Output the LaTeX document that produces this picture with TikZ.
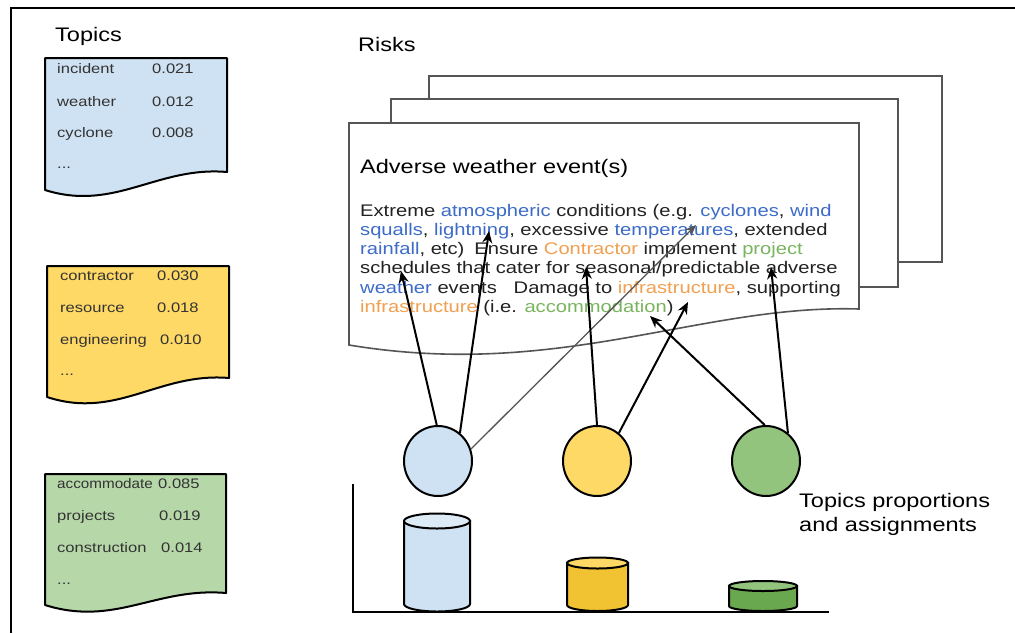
\documentclass[tikz,border=0pt]{standalone}
\usepackage{fontspec}
\setmainfont[FakeStretch=1.2]{Liberation Sans}
\usetikzlibrary{shapes.geometric,arrows.meta}
\definecolor{lblue}{HTML}{CFE2F3}
\definecolor{lyellow}{HTML}{FFD966}
\definecolor{lgreen}{HTML}{B6D7A8}
\definecolor{cgreen}{HTML}{93C47D}
\definecolor{dyellow}{HTML}{F1C232}
\definecolor{dgreen}{HTML}{6AA84F}
\definecolor{pagegray}{HTML}{555555}
\definecolor{txtgray}{HTML}{333333}
\definecolor{ptext}{HTML}{222222}
\definecolor{tb}{HTML}{3C6CC8}
\definecolor{to}{HTML}{F0A050}
\definecolor{tg}{HTML}{79B45E}
\definecolor{gline}{HTML}{555555}
\begin{document}
\begin{tikzpicture}[x=1pt,y=-1pt,
  doc/.style={draw=black,line width=2pt,line join=round},
  page/.style={draw=pagegray,line width=1.6pt,fill=white},
  dtxt/.style={anchor=base west,inner sep=0pt,font=\fontsize{13.8}{16}\selectfont,text=txtgray},
  ptxt/.style={anchor=base west,inner sep=0pt,font=\fontsize{16.8}{20}\selectfont,text=ptext},
  big/.style={anchor=base west,inner sep=0pt,font=\fontsize{19.6}{24}\selectfont,text=black},
  topic/.style={ellipse,draw=black,line width=2pt,minimum width=68pt,minimum height=70pt,inner sep=0pt},
  arr/.style={line width=2pt,-{Stealth[length=12pt,width=10pt]}},
  garr/.style={line width=1.3pt,draw=gline,-{Stealth[length=11pt,width=9pt]}},
  cyl/.style={draw=black,line width=2pt},
  axis/.style={draw=black,line width=2pt}
]
\useasboundingbox (0,0) rectangle (1015,633);
\fill[white] (0,0) rectangle (1015,633);
\draw[line width=2.5pt] (11,633) -- (11,8) -- (1015,8);

% topic documents
\node[big] (topics) at (55,41) {Topics};
\filldraw[doc,fill=lblue] (45,58) -- (227,58) -- (227,172) .. controls (157,166) and (115,212) .. (45,190) -- cycle;
\filldraw[doc,fill=lyellow] (47,266) -- (229,266) -- (229,378) .. controls (159,372) and (117,420) .. (47,397) -- cycle;
\filldraw[doc,fill=lgreen] (45,474) -- (226,474) -- (226,593) .. controls (156,587) and (115,627) .. (45,605) -- cycle;

\node[dtxt] (w11) at (57,73) {incident};
\node[dtxt] (n11) at (152,73) {0.021};
\node[dtxt] (w12) at (57,106) {weather};
\node[dtxt] (n12) at (152,106) {0.012};
\node[dtxt] (w13) at (57,137) {cyclone};
\node[dtxt] (n13) at (152,137) {0.008};
\node[dtxt] (d1) at (57,168) {...};

\node[dtxt] (w21) at (60,280) {contractor};
\node[dtxt] (n21) at (157,280) {0.030};
\node[dtxt] (w22) at (60,312) {resource};
\node[dtxt] (n22) at (157,312) {0.018};
\node[dtxt] (w23) at (60,344) {engineering};
\node[dtxt] (n23) at (160,344) {0.010};
\node[dtxt] (d2) at (60,375) {...};

\node[dtxt] (w31) at (57,488) {\scalebox{0.92}[1]{accommodate}};
\node[dtxt] (n31) at (158,488) {0.085};
\node[dtxt] (w32) at (57,520) {projects};
\node[dtxt] (n32) at (159,520) {0.019};
\node[dtxt] (w33) at (57,552) {construction};
\node[dtxt] (n33) at (161,552) {0.014};
\node[dtxt] (d3) at (57,584) {...};

% risk pages
\node[big] (risks) at (358,51) {Risks};
\filldraw[page] (429,76) rectangle (942,262);
\filldraw[page] (391,99) rectangle (898,287);
\filldraw[page] (349,123) -- (859,123) -- (859,309) .. controls (700,304) and (560,380) .. (349,345) -- cycle;

\node[big] (title) at (360,173) {Adverse weather event(s)};
\node[ptxt] (p1) at (360,216) {Extreme \textcolor{tb}{atmospheric} conditions (e.g. \textcolor{tb}{cyclones}, \textcolor{tb}{wind}};
\node[ptxt] (p2) at (360,235.3) {\textcolor{tb}{squalls}, \textcolor{tb}{lightning}, excessive \textcolor{tb}{temperatures}, extended};
\node[ptxt] (p3) at (360,254.6) {\textcolor{tb}{rainfall}, etc)\hspace{0.6em}Ensure \textcolor{to}{Contractor} implement \textcolor{tg}{project}};
\node[ptxt] (p4) at (360,273.9) {schedules that cater for seasonal/predictable adverse};
\node[ptxt] (p5) at (360,293.2) {\textcolor{tb}{weather} events\hspace{1em}Damage to \textcolor{to}{infrastructure}, supporting};
\node[ptxt] (p6) at (360,312.5) {\textcolor{to}{infrastructure} (i.e. \textcolor{tg}{accommodation})};

% topic circles
\node[topic,fill=lblue] (c1) at (438,461) {};
\node[topic,fill=lyellow] (c2) at (597,461) {};
\node[topic,fill=cgreen] (c3) at (766,461) {};

% word targets
\coordinate (t1) at (401,271);
\coordinate (t2) at (489,231);
\coordinate (t3) at (696,225);
\coordinate (t4) at (586,267);
\coordinate (t5) at (688,302);
\coordinate (t6) at (650,316);
\coordinate (t7) at (771,267);

\draw[arr] (c1.92) -- (t1);
\draw[arr] (c1.52) -- (t2);
\draw[garr] (c1.20) -- (t3);
\draw[arr] (c2.90) -- (t4);
\draw[arr] (c2.52) -- (t5);
\draw[arr] (c3.92) -- (t6);
\draw[arr] (c3.52) -- (t7);

% proportions chart
\coordinate (ax0) at (353,612);
\coordinate (axt) at (353,484);
\coordinate (axr) at (829,612);
\draw[axis] (axt) -- (ax0) -- (axr);

\filldraw[cyl,fill=lblue] (404,521) -- (404,604) arc[start angle=180,end angle=360,x radius=33pt,y radius=7.5pt] -- (470,521) -- cycle;
\filldraw[cyl,fill=lblue!70!white] (437,521) ellipse [x radius=33pt,y radius=7.5pt];

\filldraw[cyl,fill=dyellow] (567,563) -- (567,605) arc[start angle=180,end angle=360,x radius=30.5pt,y radius=6pt] -- (628,563) -- cycle;
\filldraw[cyl,fill=lyellow] (597.5,563) ellipse [x radius=30.5pt,y radius=5.5pt];

\filldraw[cyl,fill=dgreen] (729,586) -- (729,606) arc[start angle=180,end angle=360,x radius=34pt,y radius=5pt] -- (797,586) -- cycle;
\filldraw[cyl,fill=cgreen] (763,586) ellipse [x radius=34pt,y radius=5pt];

\node[big] (prop1) at (799,507) {Topics proportions};
\node[big] (prop2) at (799,531) {and assignments};
\end{tikzpicture}
\end{document}
